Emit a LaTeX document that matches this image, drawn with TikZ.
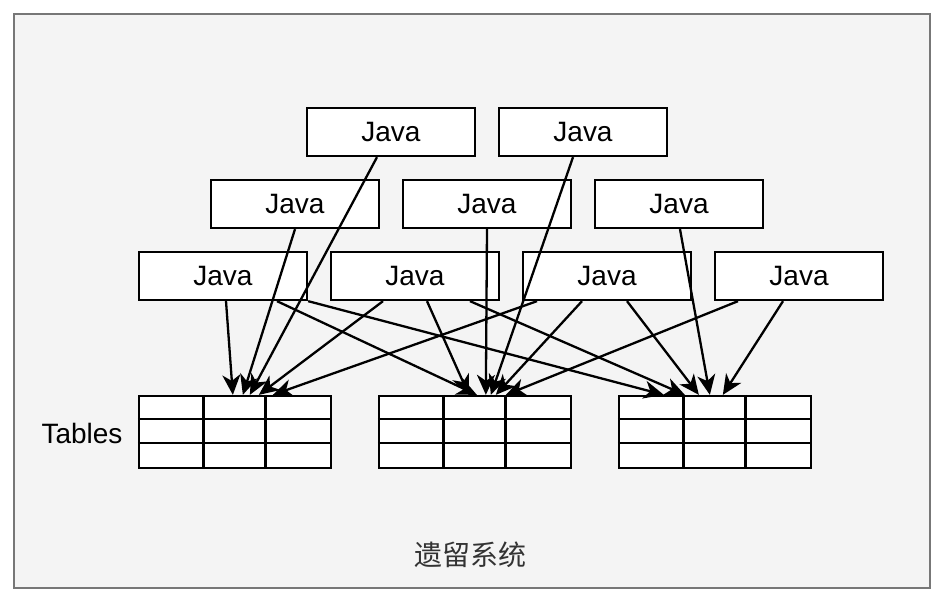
\documentclass[tikz,border=0pt]{standalone}
\usepackage{fontspec}
\setmainfont{Liberation Sans}
\newfontfamily\cjkfont{Noto Sans CJK SC}
\usetikzlibrary{arrows.meta}
\definecolor{framegray}{HTML}{777777}
\definecolor{framefill}{HTML}{F4F4F4}
\definecolor{captiongray}{HTML}{333333}
\begin{document}
\begin{tikzpicture}[x=1pt,y=-1pt,
  javabox/.style={draw=black,fill=white,line width=2.3pt,minimum width=168pt,minimum height=48pt,inner sep=0pt,font=\fontsize{28}{32}\selectfont},
  tablebox/.style={draw=black,fill=white,line width=2.3pt,minimum width=192pt,minimum height=72pt,inner sep=0pt},
  gridline/.style={draw=black,line width=2.3pt},
  link/.style={draw=black,line width=2.3pt,-{Stealth[length=20pt,width=18pt,inset=6pt]}},
  textlabel/.style={inner sep=0pt,font=\fontsize{28}{32}\selectfont}]
\useasboundingbox (0,0) rectangle (946,606);
\draw[draw=framegray,fill=framefill,line width=2.4pt] (14,14) rectangle (930,588);

% Java boxes
\node[javabox] (r1a) at (391,132) {Java};
\node[javabox] (r1b) at (583,132) {Java};
\node[javabox] (r2a) at (295,204) {Java};
\node[javabox] (r2b) at (487,204) {Java};
\node[javabox] (r2c) at (679,204) {Java};
\node[javabox] (r3a) at (223,276) {Java};
\node[javabox] (r3b) at (415,276) {Java};
\node[javabox] (r3c) at (607,276) {Java};
\node[javabox] (r3d) at (799,276) {Java};

% Tables
\node[tablebox] (t1) at (235,432) {};
\node[tablebox] (t2) at (475,432) {};
\node[tablebox] (t3) at (715,432) {};
\foreach \t in {t1,t2,t3}{
  \draw[gridline] ([xshift=65.5pt]\t.north west) -- ([xshift=65.5pt]\t.south west);
  \draw[gridline] ([xshift=127.5pt]\t.north west) -- ([xshift=127.5pt]\t.south west);
  \draw[gridline] ([yshift=-24pt]\t.north west) -- ([yshift=-24pt]\t.north east);
  \draw[gridline] ([yshift=-48pt]\t.north west) -- ([yshift=-48pt]\t.north east);
}

\node[textlabel] (tables) at (82,433) {Tables};
\node[textlabel,text=captiongray] (caption) at (470,555) {\cjkfont 遗留系统};

% Connectors to table 1
\draw[link] ([xshift=3pt]r3a.south) -- ([xshift=95pt]t1.north west);
\draw[link] (r2a.south) -- ([xshift=105pt]t1.north west);
\draw[link] ([xshift=-14pt]r1a.south) -- ([xshift=112pt]t1.north west);
\draw[link] ([xshift=-32pt]r3b.south) -- ([xshift=121pt]t1.north west);
\draw[link] ([xshift=-70pt]r3c.south) -- ([xshift=135pt]t1.north west);

% Connectors to table 2
\draw[link] ([xshift=54pt]r3a.south) -- ([xshift=99pt]t2.north west);
\draw[link] ([xshift=12pt]r3b.south) -- ([xshift=91pt]t2.north west);
\draw[link] (r2b.south) -- ([xshift=108pt]t2.north west);
\draw[link] ([xshift=-10pt]r1b.south) -- ([xshift=113pt]t2.north west);
\draw[link] ([xshift=-25pt]r3c.south) -- ([xshift=118pt]t2.north west);
\draw[link] ([xshift=-61pt]r3d.south) -- ([xshift=128pt]t2.north west);

% Connectors to table 3
\draw[link] (r3a.south east) -- ([xshift=46pt]t3.north west);
\draw[link] ([xshift=55pt]r3b.south) -- ([xshift=67pt]t3.north west);
\draw[link] ([xshift=20pt]r3c.south) -- ([xshift=81pt]t3.north west);
\draw[link] ([xshift=1pt]r2c.south) -- ([xshift=92pt]t3.north west);
\draw[link] ([xshift=-16pt]r3d.south) -- ([xshift=105pt]t3.north west);
\end{tikzpicture}
\end{document}
